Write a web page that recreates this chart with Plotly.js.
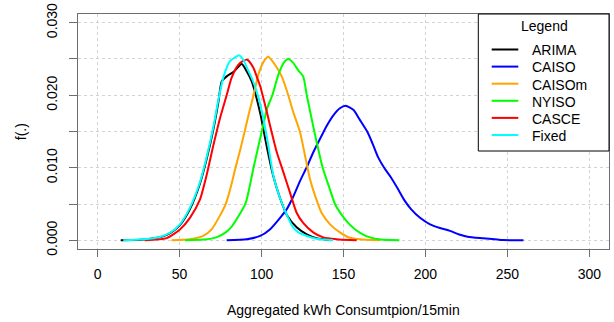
<!DOCTYPE html>
<html>
<head>
<meta charset="utf-8">
<script src="https://cdn.plot.ly/plotly-3.0.1.min.js"></script>
<style>html,body{margin:0;padding:0;background:#fff;}#chart{width:614px;height:322px;}</style>
</head>
<body>
<div id="chart"></div>
<script>
// ---- data ----
const seriesNames = ["ARIMA", "CAISO", "CAISOm", "NYISO", "CASCE", "Fixed"];
const seriesColors = ["#000000", "#0000FF", "#FFA500", "#00FF00", "#FF0000", "#00FFFF"];

const arimaX = [14.1, 27.9, 38.0, 44.2, 50.2, 56.3, 62.4, 66.5, 70.6, 73.6, 75.7, 78.7, 82.8, 87.9, 90.9, 94.0, 99.2, 103.1, 107.1, 111.3, 115.4, 121.4, 127.6, 133.6, 142.4];
const arimaY = [0, 0.00012, 0.00042, 0.001, 0.0021, 0.0043, 0.0078, 0.0112, 0.0153, 0.019, 0.0219, 0.0226, 0.0232, 0.0243, 0.0233, 0.0219, 0.0175, 0.013, 0.0089, 0.0058, 0.0035, 0.0018, 0.00083, 0.0003, 0];

const caisoX = [78.7, 90.9, 99.1, 105.1, 111.3, 115.4, 119.3, 123.5, 127.6, 131.5, 135.7, 139.8, 143.7, 147.8, 151.3, 156.0, 160.0, 164.7, 167.8, 171.0, 175.1, 178.9, 182.9, 187.2, 191.2, 196.7, 202.8, 208.9, 215.0, 220.6, 225.7, 235.2, 247.5, 259.8];
const caisoY = [0, 0.00014, 0.0006, 0.0015, 0.0031, 0.0043, 0.006, 0.0082, 0.0101, 0.0121, 0.014, 0.0158, 0.0172, 0.0182, 0.01856, 0.018, 0.0166, 0.0149, 0.0133, 0.0115, 0.0099, 0.0087, 0.0072, 0.0055, 0.0043, 0.0031, 0.0022, 0.0017, 0.0013, 0.0008, 0.0005, 0.00028, 0.00003, 0];

const caisomX = [45.1, 56.3, 64.4, 69.5, 74.6, 78.1, 81.4, 84.1, 87.0, 89.7, 92.4, 95.1, 98.0, 101.2, 104.1, 108.2, 112.3, 116.3, 119.3, 123.5, 126.5, 129.5, 132.6, 136.6, 141.8, 147.8, 153.9, 160.0, 172.2];
const caisomY = [0, 0.00014, 0.0006, 0.0015, 0.0034, 0.005, 0.0075, 0.01, 0.0125, 0.015, 0.0176, 0.02, 0.0228, 0.0246, 0.0253, 0.0242, 0.0226, 0.02, 0.0177, 0.0149, 0.0117, 0.0085, 0.0062, 0.0038, 0.0022, 0.0011, 0.00036, 0.00014, 0];

const nyisoX = [53.3, 64.8, 72.4, 78.1, 81.8, 85.6, 90.4, 95.1, 100.1, 103.6, 106.6, 110.2, 113.6, 116.3, 119.2, 122.5, 125.4, 127.6, 132.2, 137.3, 141.0, 144.8, 148.6, 152.8, 156.6, 160.4, 166.1, 172.7, 184.1];
const nyisoY = [0, 0.0001, 0.0004, 0.0011, 0.0019, 0.0032, 0.0052, 0.01, 0.015, 0.0183, 0.02, 0.0228, 0.0245, 0.025, 0.0245, 0.0234, 0.0226, 0.02, 0.015, 0.01, 0.0075, 0.005, 0.0036, 0.0024, 0.0016, 0.001, 0.0004, 0.0001, 0];

const casceX = [28.8, 42.1, 50.2, 56.3, 62.4, 66.5, 70.6, 74.6, 78.7, 81.7, 85.8, 88.5, 91.3, 95.0, 97.0, 99.1, 101.1, 103.1, 105.1, 109.2, 113.3, 117.3, 121.4, 125.4, 131.5, 137.7, 145.8, 153.8, 158.0];
const casceY = [0, 0.0003, 0.0015, 0.0031, 0.0056, 0.009, 0.0131, 0.0168, 0.02, 0.0224, 0.0242, 0.0247, 0.0249, 0.0238, 0.0226, 0.0213, 0.0196, 0.0178, 0.0159, 0.0122, 0.0094, 0.0066, 0.0038, 0.0024, 0.0011, 0.0004, 0.00014, 0.00003, 0];

const fixedX = [15.6, 27.9, 38.0, 44.2, 50.2, 56.3, 62.4, 66.5, 70.6, 73.6, 76.6, 80.7, 83.7, 86.2, 88.8, 91.9, 94.5, 98.0, 101.1, 104.1, 107.1, 111.3, 115.4, 119.3, 122.5, 127.6, 133.6, 143.8];
const fixedY = [0, 0.00014, 0.00046, 0.00104, 0.0022, 0.0045, 0.008, 0.0115, 0.0156, 0.0193, 0.0224, 0.0247, 0.0252, 0.0255, 0.0249, 0.0234, 0.0221, 0.0198, 0.0168, 0.0131, 0.009, 0.0058, 0.0035, 0.00175, 0.0011, 0.0006, 0.0002, 0];

const xTickVals = [0, 50, 100, 150, 200, 250, 300];
const yTickVals = [0, 0.005, 0.01, 0.015, 0.02, 0.025, 0.03];
const yTickText = ["0.000", "", "0.010", "", "0.020", "", "0.030"];

const xTitle = "Aggregated kWh Consumtpion/15min";
const yTitle = "f(.)";
const legendTitle = "Legend";

// ---- build ----
const FONT = "Liberation Sans, Arial, sans-serif";
const xs = [arimaX, caisoX, caisomX, nyisoX, casceX, fixedX];
const ys = [arimaY, caisoY, caisomY, nyisoY, casceY, fixedY];

const traces = seriesNames.map((n, i) => ({
  type: "scatter", mode: "lines", name: n,
  x: xs[i], y: ys[i],
  line: {color: seriesColors[i], width: 2, shape: "spline", smoothing: 0.6},
  hoverinfo: "skip", showlegend: false
}));

const xRange = [-12, 312];
const yRange = [-0.0012, 0.0312];

const plotL = 78, plotR = 609, plotT = 14, plotB = 249;
const pw = plotR - plotL, ph = plotB - plotT;
const px = v => (v - plotL) / pw;
const py = v => (plotB - v) / ph;

const shapes = [];
const annotations = [];

// legend box
shapes.push({type: "rect", xref: "paper", yref: "paper",
  x0: px(478.3), x1: 1, y0: py(151), y1: 1,
  fillcolor: "#ffffff", line: {color: "#000000", width: 1}, layer: "above"});
annotations.push({xref: "paper", yref: "paper", x: px(544), y: py(26), text: legendTitle,
  showarrow: false, xanchor: "center", yanchor: "middle",
  font: {family: FONT, size: 14, color: "#000"}});
seriesNames.forEach((n, i) => {
  const yy = 49.5 + 17.1 * i;
  shapes.push({type: "line", xref: "paper", yref: "paper",
    x0: px(491.7), x1: px(518.3), y0: py(yy), y1: py(yy),
    line: {color: seriesColors[i], width: 2}, layer: "above"});
  annotations.push({xref: "paper", yref: "paper", x: px(529.5), y: py(yy + 0.8), text: n,
    showarrow: false, xanchor: "left", yanchor: "middle",
    font: {family: FONT, size: 14, color: "#000"}});
});

// axis titles
annotations.push({xref: "paper", yref: "paper", x: 0.5, y: py(310), text: xTitle,
  showarrow: false, xanchor: "center", yanchor: "middle",
  font: {family: FONT, size: 14, color: "#000"}});
annotations.push({xref: "paper", yref: "paper", x: px(20.7), y: 0.5, text: yTitle,
  showarrow: false, xanchor: "center", yanchor: "middle", textangle: -90,
  font: {family: FONT, size: 14, color: "#000"}});

const layout = {
  width: 614, height: 322,
  margin: {l: plotL, r: 614 - plotR, t: plotT, b: 322 - plotB, pad: 0},
  paper_bgcolor: "#ffffff", plot_bgcolor: "#ffffff",
  font: {family: FONT, size: 14, color: "#000"},
  showlegend: false,
  xaxis: {
    range: xRange, tickmode: "array", tickvals: xTickVals,
    ticks: "outside", ticklen: 7, tickwidth: 1, tickcolor: "#6e6e6e",
    showgrid: true, gridcolor: "#d3d3d3", griddash: "dot", gridwidth: 1,
    zeroline: false,
    showline: true, mirror: true, linecolor: "#6e6e6e", linewidth: 1,
    tickfont: {size: 14, color: "#000"}, ticklabelstandoff: 5
  },
  yaxis: {
    range: yRange, tickmode: "array", tickvals: yTickVals, ticktext: yTickText,
    ticks: "outside", ticklen: 8, tickwidth: 1, tickcolor: "#6e6e6e",
    showgrid: true, gridcolor: "#d3d3d3", griddash: "dot", gridwidth: 1,
    zeroline: false,
    showline: true, mirror: true, linecolor: "#6e6e6e", linewidth: 1,
    tickangle: -90, tickfont: {size: 14, color: "#000"}, ticklabelstandoff: 6
  },
  shapes: shapes,
  annotations: annotations
};

Plotly.newPlot("chart", traces, layout, {displayModeBar: false, staticPlot: true});
</script>
</body>
</html>
